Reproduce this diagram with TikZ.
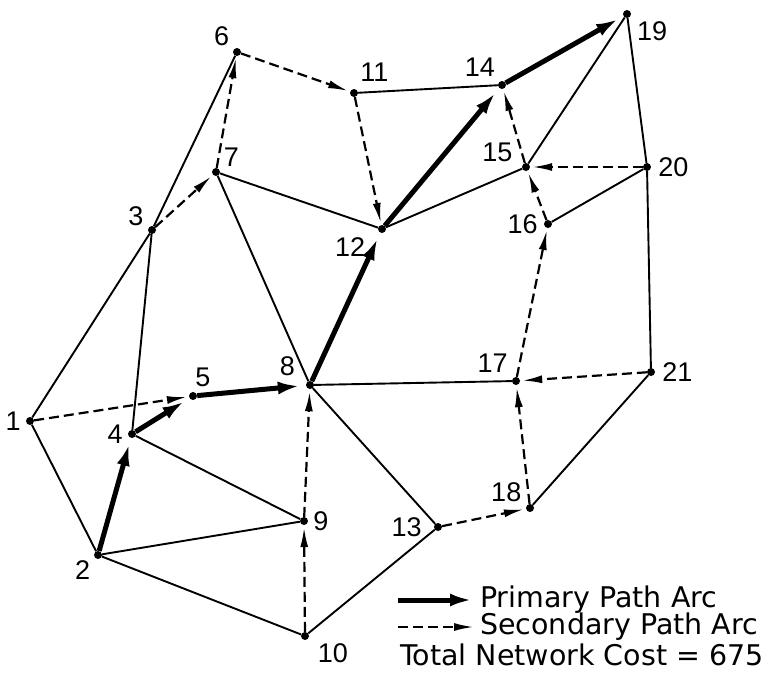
\documentclass[tikz,border=0pt]{standalone}
\usepackage{fontspec}
\setmainfont{DejaVu Sans}
\newfontfamily\numfont{Liberation Sans}
\usetikzlibrary{arrows.meta}

\begin{document}
\begin{tikzpicture}[
  x=1pt,y=-1pt,
  v/.style={circle,fill,inner sep=0pt,minimum size=8pt},
  every label/.style={font=\numfont\fontsize{27}{27}\selectfont,inner sep=1pt},
  label distance=4pt,
  arc/.style={line width=1.9pt},
  sec/.style={line width=2.2pt,dash pattern=on 10pt off 5pt,-{Latex[length=20pt,width=8pt]},shorten >=2pt},
  pri/.style={line width=5pt,-{Latex[length=22pt,width=13pt]},shorten >=6pt},
  leg/.style={font=\fontsize{28.5}{30}\selectfont,inner sep=0pt,anchor=west}
]
\useasboundingbox (0,0) rectangle (776,673);
% Vertices
\node[v,label={180:1}] (n1) at (30,421) {};
\node[v,label={217:2}] (n2) at (98,555) {};
\node[v,label={155:3}] (n3) at (152,230) {};
\node[v,label={180:4}] (n4) at (132,434) {};
\node[v,label={81:5}] (n5) at (193,396) {};
\node[v,label={145:6}] (n6) at (237,52) {};
\node[v,label={35:7}] (n7) at (216,172) {};
\node[v,label={[label distance=12pt]150:8}] (n8) at (310,385) {};
\node[v,label={0:9}] (n9) at (304,521) {};
\node[v,label={[label distance=9pt]333:10}] (n10) at (305,636) {};
\node[v,label={[label distance=7pt]62:11}] (n11) at (354,93) {};
\node[v,label={[label distance=13pt]204:12}] (n12) at (382,229) {};
\node[v,label={[label distance=11pt]180:13}] (n13) at (438,527) {};
\node[v,label={[label distance=5pt]130:14}] (n14) at (502,85) {};
\node[v,label={[label distance=9pt]160:15}] (n15) at (526,167) {};
\node[v,label={[label distance=5pt]180:16}] (n16) at (548,224) {};
\node[v,label={[label distance=6pt]135:17}] (n17) at (516,381) {};
\node[v,label={[label distance=5pt]145:18}] (n18) at (530,508) {};
\node[v,label={[label distance=7pt]322:19}] (n19) at (627,14) {};
\node[v,label={[label distance=6pt]0:20}] (n20) at (647,167) {};
\node[v,label={[label distance=6pt]0:21}] (n21) at (651,372) {};

% Plain arcs
\draw[arc] (n1) -- (n3) (n1) -- (n2) (n3) -- (n6) (n3) -- (n4);
\draw[arc] (n2) -- (n9) (n2) -- (n10) (n4) -- (n9);
\draw[arc] (n7) -- (n8) (n7) -- (n12) (n8) -- (n17) (n8) -- (n13) (n13) -- (n10);
\draw[arc] (n11) -- (n14) (n12) -- (n15) (n15) -- (n19) (n19) -- (n20);
\draw[arc] (n16) -- (n20) (n20) -- (n21) (n21) -- (n18);

% Secondary path
\draw[sec] (n1) -- (n5);
\draw[sec] (n3) -- (n7);
\draw[sec] (n7) -- (n6);
\draw[sec] (n6) -- (n11);
\draw[sec] (n11) -- (n12);
\draw[sec] (n20) -- (n15);
\draw[sec] (n16) -- (n15);
\draw[sec] (n15) -- (n14);
\draw[sec] (n17) -- (n16);
\draw[sec] (n21) -- (n17);
\draw[sec] (n18) -- (n17);
\draw[sec] (n13) -- (n18);
\draw[sec] (n10) -- (n9);
\draw[sec] (n9) -- (n8);

% Primary path
\draw[pri] (n2) -- (n4);
\draw[pri] (n4) -- (n5);
\draw[pri] (n5) -- (n8);
\draw[pri] (n8) -- (n12);
\draw[pri] (n12) -- (n14);
\draw[pri] (n14) -- (n19);

% Legend
\coordinate (pa) at (398,600);
\coordinate (pb) at (472,600);
\coordinate (sa) at (398,627);
\coordinate (sb) at (474,627);
\draw[pri,shorten >=0pt] (pa) -- (pb);
\draw[sec,shorten >=0pt] (sa) -- (sb);
\node[leg] (lp) at (480,600) {Primary Path Arc};
\node[leg] (ls) at (480,627) {Secondary Path Arc};
\node[leg] (lt) at (400,655) {Total Network Cost = 675};
\end{tikzpicture}
\end{document}
